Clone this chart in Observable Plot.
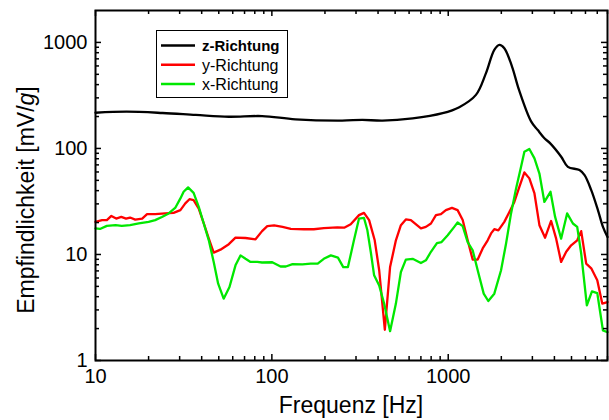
<!DOCTYPE html>
<html><head><meta charset="utf-8">
<script src="https://cdn.jsdelivr.net/npm/d3@7"></script>
<script src="https://cdn.jsdelivr.net/npm/@observablehq/plot@0.6"></script>
<style>html,body{margin:0;padding:0;background:#fff}#chart svg{display:block}</style>
</head><body><div id="chart"></div>
<script>
// z-Richtung (black)
const zFreq = [10, 15, 24, 37, 57, 88, 136, 250, 326, 424, 628, 930, 1155, 1436, 1637, 1825, 1950, 2080, 2300, 2520, 2950, 3220, 3510, 3800, 4370, 4770, 5550, 5930, 6470, 7060, 7540, 8000];
const zVal  = [217, 222, 216, 207, 199, 202, 188, 183, 186, 183, 192, 215, 245, 320, 513, 851, 949, 883, 592, 356, 180, 149, 125, 111, 83.5, 67, 62.5, 56, 40.4, 26.2, 18.2, 14.6];

// y-Richtung (red)
const yFreq = [10, 10.9, 11.6, 12.3, 13.1, 14.0, 14.9, 15.7, 16.8, 18.4, 19.6, 21.8, 24.9, 27.7, 30.3, 32.3, 34.1, 36, 38.5, 41.1, 43.9, 46.8, 51.1, 57, 62.2, 70.9, 80.8, 88, 94.2, 103, 115, 128, 152, 173, 197, 235, 257, 280, 312, 333, 356, 383, 406, 437, 468, 505, 539, 575, 614, 700, 747, 798, 852, 909, 970, 1050, 1130, 1208, 1289, 1376, 1469, 1568, 1674, 1749, 1825, 1924, 2080, 2222, 2371, 2531, 2703, 2884, 3083, 3289, 3542, 3832, 4092, 4366, 4666, 4978, 5387, 5675, 6058, 6470, 7000, 7470, 8000];
const yVal  = [20.3, 21.1, 21.1, 23.1, 21.8, 22.6, 21.8, 22.3, 21.3, 21.8, 24, 24, 24.4, 24.7, 26.2, 30.3, 33.2, 32.6, 27.1, 19.6, 14.1, 10.4, 11.1, 12.5, 14.4, 14.3, 13.9, 16.6, 18.5, 18.8, 18.2, 17.4, 17.3, 17.3, 17.7, 18, 17.9, 19.3, 23.5, 24.7, 21.1, 13.6, 7.1, 1.95, 7.6, 13.6, 18.9, 21.4, 21.1, 17.6, 18.2, 19.6, 23.5, 24, 26.2, 27.5, 26.2, 21.1, 13.6, 8.95, 8.95, 11.4, 13.6, 15.8, 17.3, 16.9, 20.3, 25.2, 31.3, 43.5, 59.4, 52.2, 37.6, 18.9, 14.4, 20.7, 14.1, 8.5, 10.6, 12.2, 13.6, 16.6, 8.2, 7.4, 5.7, 3.44, 3.56];

// x-Richtung (green)
const xFreq = [10, 10.6, 11.6, 13.0, 14.1, 15.7, 17.6, 20, 21.8, 23.8, 26, 28.4, 30.3, 31.6, 33.5, 36, 38.5, 41.1, 43.9, 46.8, 49.6, 53.3, 57.5, 62.2, 66.4, 70.9, 75.7, 82.6, 88, 100.5, 112, 120, 131, 149, 166, 182, 197, 216, 237, 254, 270, 292, 312, 333, 348, 364, 380, 406, 433, 468, 505, 539, 575, 628, 700, 747, 798, 863, 917, 993, 1082, 1130, 1208, 1289, 1376, 1469, 1589, 1687, 1825, 1993, 2128, 2271, 2425, 2588, 2703, 2884, 3083, 3289, 3510, 3800, 4037, 4366, 4722, 5093, 5387, 5675, 6110, 6530, 7000, 7540, 8000];
const xVal  = [17.6, 17.4, 18.6, 18.9, 18.6, 18.9, 19.6, 20.3, 21.1, 22.6, 24.4, 27.7, 33.8, 39, 42.9, 38.1, 28.1, 19.6, 13.6, 8.5, 5.3, 3.83, 4.93, 7.9, 9.8, 9.1, 8.5, 8.5, 8.4, 8.45, 7.7, 7.7, 8.1, 8.05, 8.2, 8.2, 9.1, 9.8, 9.34, 7.6, 7.6, 13.6, 21.8, 22.1, 16.9, 10.5, 6.36, 5.1, 3.44, 1.89, 3.44, 6.84, 8.95, 9.1, 8.3, 8.8, 10.6, 12.8, 13.1, 15.2, 18.2, 20, 18.5, 13.1, 10.96, 7.1, 4.27, 3.64, 4.27, 7.1, 12.7, 24.4, 42, 67.2, 93.1, 98.7, 80.6, 58, 31.3, 39, 22.6, 14.1, 24.4, 19.6, 18.2, 10.2, 3.31, 4.49, 4.32, 1.92, 1.85];

const xMajorTicks = [10, 100, 1000];
const xMinorTicks = [20, 30, 40, 50, 60, 70, 80, 90, 200, 300, 400, 500, 600, 700, 800, 900, 2000, 3000, 4000, 5000, 6000, 7000, 8000];
const yMajorTicks = [1, 10, 100, 1000];
const yMinorTicks = [2, 3, 4, 5, 6, 7, 8, 9, 20, 30, 40, 50, 60, 70, 80, 90, 200, 300, 400, 500, 600, 700, 800, 900];

const seriesNames = ["z-Richtung", "y-Richtung", "x-Richtung"];
const seriesColors = ["#000000", "#ff0000", "#00e800"];
const xTitle = "Frequenz [Hz]";
const yTitleParts = ["Empfindlichkeit [mV/", "g", "]"];

const toRows = (fs, vs) => fs.map((f, i) => ({f, v: vs[i]}));

const W = 609, H = 420, mL = 95, mR = 2, mT = 10, mB = 60;
const fw = W - mL - mR, fh = H - mT - mB;
const majLen = 6, minLen = 4;
const tickStyle = {stroke: "black", strokeWidth: 1.5};

const plot = Plot.plot({
  width: W, height: H,
  marginLeft: mL, marginRight: mR, marginTop: mT, marginBottom: mB,
  style: {fontFamily: "'Liberation Sans', Arial, sans-serif", fontSize: "20px", color: "black", background: "white"},
  x: {type: "log", domain: [10, 8000], ticks: xMajorTicks, tickSize: 0, tickPadding: 8, tickFormat: d => String(d), label: null},
  y: {type: "log", domain: [1, 2000], ticks: yMajorTicks, tickSize: 0, tickPadding: 8, tickFormat: d => String(d), label: null},
  marks: [
    Plot.line(toRows(zFreq, zVal), {x: "f", y: "v", stroke: seriesColors[0], strokeWidth: 2.3, curve: "catmull-rom"}),
    Plot.line(toRows(yFreq, yVal), {x: "f", y: "v", stroke: seriesColors[1], strokeWidth: 2.3}),
    Plot.line(toRows(xFreq, xVal), {x: "f", y: "v", stroke: seriesColors[2], strokeWidth: 2.3}),
    // inward ticks, bottom & top
    Plot.tickX(xMajorTicks, {x: d => d, insetTop: fh - majLen, ...tickStyle}),
    Plot.tickX(xMajorTicks, {x: d => d, insetBottom: fh - majLen, ...tickStyle}),
    Plot.tickX(xMinorTicks, {x: d => d, insetTop: fh - minLen, ...tickStyle}),
    Plot.tickX(xMinorTicks, {x: d => d, insetBottom: fh - minLen, ...tickStyle}),
    // inward ticks, left & right
    Plot.tickY(yMajorTicks, {y: d => d, insetRight: fw - majLen, ...tickStyle}),
    Plot.tickY(yMajorTicks, {y: d => d, insetLeft: fw - majLen, ...tickStyle}),
    Plot.tickY(yMinorTicks, {y: d => d, insetRight: fw - minLen, ...tickStyle}),
    Plot.tickY(yMinorTicks, {y: d => d, insetLeft: fw - minLen, ...tickStyle}),
    Plot.frame({stroke: "black", strokeWidth: 2})
  ]
});

document.getElementById("chart").appendChild(plot);

const svg = d3.select(plot);
const font = "'Liberation Sans', Arial, sans-serif";

// axis titles
svg.append("text")
  .attr("x", mL + fw / 2).attr("y", 413)
  .attr("text-anchor", "middle")
  .style("font-family", font).style("font-size", "23px").attr("fill", "black")
  .text(xTitle);

const yt = svg.append("text")
  .attr("transform", `translate(34,${mT + fh / 2 + 15}) rotate(-90)`)
  .attr("text-anchor", "middle")
  .style("font-family", font).style("font-size", "23px").attr("fill", "black");
yt.append("tspan").text(yTitleParts[0]);
yt.append("tspan").style("font-style", "italic").text(yTitleParts[1]);
yt.append("tspan").text(yTitleParts[2]);

// legend
const lg = svg.append("g");
lg.append("rect").attr("x", 156.5).attr("y", 30.5).attr("width", 131).attr("height", 67)
  .attr("fill", "white").attr("stroke", "black").attr("stroke-width", 1);
seriesNames.forEach((name, i) => {
  const cy = 45.5 + i * 19.3;
  lg.append("line").attr("x1", 161).attr("x2", 195).attr("y1", cy).attr("y2", cy)
    .attr("stroke", seriesColors[i]).attr("stroke-width", 2.5);
  lg.append("text").attr("x", 202).attr("y", cy).attr("dy", "0.36em")
    .attr("text-anchor", "start")
    .style("font-family", font)
    .style("font-size", i === 0 ? "15px" : "16px")
    .style("font-weight", i === 0 ? "bold" : "normal")
    .attr("fill", "black").text(name);
});
</script>
</body></html>
